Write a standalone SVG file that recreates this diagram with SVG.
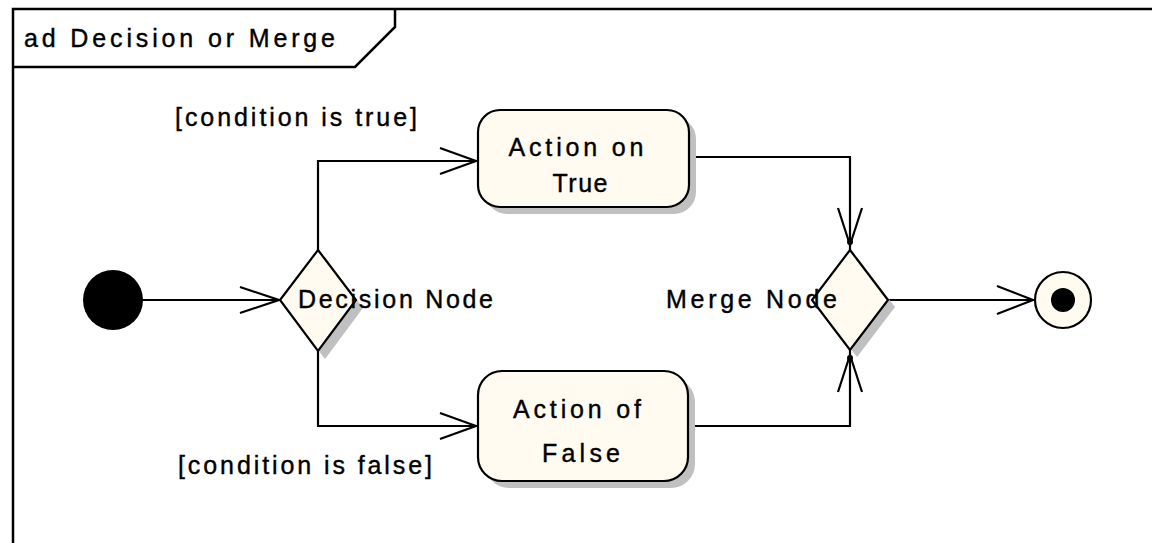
<svg xmlns="http://www.w3.org/2000/svg" width="1152" height="543" viewBox="0 0 1152 543">
<defs>
<style>
.frame{fill:none;stroke:#000;stroke-width:2.5}
.node{fill:#FFFBF0;stroke:#000;stroke-width:2.2}
.shadow{fill:#C0C0C0;stroke:none}
.edge{fill:none;stroke:#000;stroke-width:2.2}
.head{fill:none;stroke:#000;stroke-width:2.2}
.t{font-family:"Liberation Sans",Arial,sans-serif;font-size:25px;fill:#000;stroke:#000;stroke-width:0.4}
.c{text-anchor:middle}
</style>
</defs>
<rect x="0" y="0" width="1152" height="543" fill="#fff"/>
<g id="frame">
<path class="frame" d="M13,543 V9 H1152"/>
<path class="frame" d="M13,67 H355 L395,27 V9"/>
<text class="t" x="24" y="47" textLength="311" lengthAdjust="spacing">ad Decision or Merge</text>
</g>
<g id="connectors">
<path class="edge" d="M143,300 H279"/>
<path class="head" d="M240,287 L279,300 L240,313"/>
<path class="edge" d="M318,250 V161 H477"/>
<path class="head" d="M440,148 L476,161 L440,174"/>
<path class="edge" d="M318,351 V426 H477"/>
<path class="head" d="M440,413 L476,426 L440,439"/>
<path class="edge" d="M690,157 H850 V250"/>
<path class="head" d="M838,208 L850,245 L862,208"/>
<circle cx="850" cy="242" r="3" fill="#000"/>
<path class="edge" d="M688,426 H850 V350"/>
<path class="head" d="M838,392 L850,355 L862,392"/>
<circle cx="850" cy="358" r="3" fill="#000"/>
<path class="edge" d="M888,300 H1034"/>
<path class="head" d="M997,286 L1033,300 L997,314"/>
<text class="t" x="175" y="126" textLength="242" lengthAdjust="spacing">[condition is true]</text>
<text class="t" x="178" y="474" textLength="254" lengthAdjust="spacing">[condition is false]</text>
</g>
<g id="start">
<circle cx="113" cy="300" r="30" fill="#000"/>
</g>
<g id="decision">
<path class="shadow" d="M325,257 L363,308 L325,359 L287,308 Z"/>
<path class="node" d="M318,250 L356,300 L318,351 L280,300 Z"/>
<text class="t" x="298" y="308" textLength="195" lengthAdjust="spacing">Decision Node</text>
</g>
<g id="actionTrue">
<rect class="shadow" x="485" y="117" width="211" height="97" rx="22"/>
<rect class="node" x="478" y="110" width="211" height="97" rx="22"/>
<text class="t c" x="576" y="156" textLength="135" lengthAdjust="spacing">Action on</text>
<text class="t c" x="580" y="192" textLength="55" lengthAdjust="spacing">True</text>
</g>
<g id="actionFalse">
<rect class="shadow" x="485" y="378" width="210" height="110" rx="24"/>
<rect class="node" x="478" y="371" width="210" height="110" rx="24"/>
<text class="t c" x="577" y="418" textLength="128" lengthAdjust="spacing">Action of</text>
<text class="t c" x="581" y="462" textLength="78" lengthAdjust="spacing">False</text>
</g>
<g id="merge">
<path class="shadow" d="M857,257 L895,307 L857,357 L819,307 Z"/>
<path class="node" d="M850,250 L888,300 L850,350 L812,300 Z"/>
<text class="t" x="666" y="308" textLength="171" lengthAdjust="spacing">Merge Node</text>
</g>
<g id="final">
<circle class="node" cx="1063" cy="300" r="28"/>
<circle cx="1063" cy="300" r="12" fill="#000"/>
</g>
</svg>
